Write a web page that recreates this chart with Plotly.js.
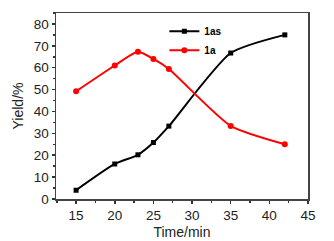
<!DOCTYPE html>
<html><head><meta charset="utf-8">
<script src="https://cdn.plot.ly/plotly-3.0.1.min.js"></script>
<style>html,body{margin:0;padding:0;background:#fff}#c{width:334px;height:241px}</style>
</head><body><div id="c"></div>
<script>
const time = [15, 20, 23, 25, 27, 35, 42];
const yield1as = [4, 16, 20.2, 25.8, 33.3, 66.7, 75];
const yield1a = [49.2, 61, 67.3, 64, 59.4, 33.4, 25];
const seriesNames = ['1as', '1a'];

const traces = [
  {x: time, y: yield1as, name: seriesNames[0], type: 'scatter', mode: 'lines+markers',
   line: {color: '#000000', width: 2, shape: 'spline', smoothing: 0.6},
   marker: {symbol: 'square', size: 5, color: '#000000'}},
  {x: time, y: yield1a, name: seriesNames[1], type: 'scatter', mode: 'lines+markers',
   line: {color: '#ff0000', width: 2, shape: 'spline', smoothing: 0.6},
   marker: {symbol: 'circle', size: 6, color: '#ff0000'}}
];
const axisFont = {family: 'Liberation Sans, Arial, sans-serif', size: 13.5, color: '#222'};
const titleFont = {family: 'Liberation Sans, Arial, sans-serif', size: 14, color: '#222'};
const layout = {
  width: 334, height: 241,
  margin: {l: 56, r: 26, t: 13, b: 42},
  paper_bgcolor: '#fff', plot_bgcolor: '#fff',
  showlegend: true,
  legend: {x: 0.43, y: 0.98, xanchor: 'left', yanchor: 'top', bgcolor: 'rgba(0,0,0,0)',
    font: {family: 'Liberation Sans, Arial, sans-serif', size: 10, color: '#000', weight: 'bold'},
    itemwidth: 30, tracegroupgap: 0},
  xaxis: {range: [12.4, 45], tickvals: [15,20,25,30,35,40,45], ticks: 'outside', ticklen: 3,
    tickwidth: 1.5, tickcolor: '#333', showline: true, linecolor: '#444', linewidth: 1.5,
    mirror: true, showgrid: false, zeroline: false, tickfont: axisFont,
    minor: {dtick: 2.5, tick0: 0, ticks: 'outside', ticklen: 2, tickcolor: '#333', showgrid: false},
    title: {text: 'Time/min', font: titleFont, standoff: 5}},
  yaxis: {range: [0, 85], tickvals: [0,10,20,30,40,50,60,70,80], ticks: 'outside', ticklen: 3,
    tickwidth: 1.5, tickcolor: '#333', showline: true, linecolor: '#444', linewidth: 1.5,
    mirror: true, showgrid: false, zeroline: false, tickfont: axisFont,
    minor: {dtick: 5, tick0: 0, ticks: 'outside', ticklen: 2, tickcolor: '#333', showgrid: false},
    title: {text: 'Yield/%', font: titleFont, standoff: 7}}
};
Plotly.newPlot('c', traces, layout, {staticPlot: true, displayModeBar: false});
</script></body></html>
